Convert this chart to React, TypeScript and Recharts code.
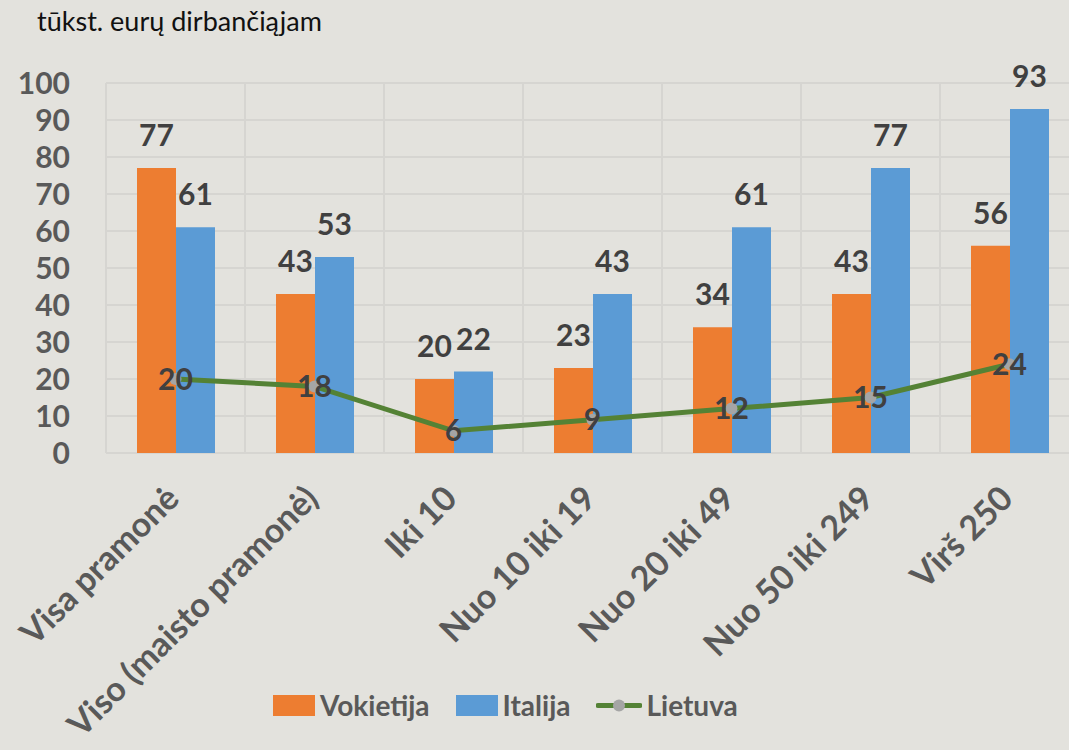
import React from "react";
import {
  ComposedChart,
  Bar,
  Line,
  XAxis,
  YAxis,
  CartesianGrid,
  LabelList,
} from "recharts";

const categories = [
  "Visa pramonė",
  "Viso (maisto pramonė)",
  "Iki 10",
  "Nuo 10 iki 19",
  "Nuo 20 iki 49",
  "Nuo 50 iki 249",
  "Virš 250",
];
const vokietija = [77, 43, 20, 23, 34, 43, 56];
const italija = [61, 53, 22, 43, 61, 77, 93];
const lietuva = [20, 18, 6, 9, 12, 15, 24];
const yTicks = [0, 10, 20, 30, 40, 50, 60, 70, 80, 90, 100];

const data = categories.map((name, i) => ({
  name,
  vokietija: vokietija[i],
  italija: italija[i],
  lietuva: lietuva[i],
}));

const FONT = "Lato, 'Open Sans', sans-serif";
const ORANGE = "#ED7D31";
const BLUE = "#5B9BD5";
const GREEN = "#548235";
const MARKER = "#A5A5A5";
const AXIS_TEXT = "#595959";
const LABEL_TEXT = "#404040";
const BG = "#E3E2DD";
const GRID = "#D6D5D1";

const XTick = (props: any) => {
  const { x, y, payload } = props;
  const ax = x - 4;
  const ay = y + 30;
  return (
    <text
      x={ax}
      y={ay}
      transform={`rotate(-45, ${ax}, ${ay})`}
      textAnchor="end"
      dominantBaseline="central"
      fontFamily={FONT}
      fontWeight={700}
      fontSize={34}
      fill={AXIS_TEXT}
    >
      {payload.value}
    </text>
  );
};

const LegendItem = ({ kind, color, label }: { kind: "bar" | "line"; color: string; label: string }) => (
  <div style={{ display: "flex", alignItems: "center", marginRight: 26 }}>
    {kind === "bar" ? (
      <div style={{ width: 42, height: 21, background: color, marginRight: 5 }} />
    ) : (
      <svg width={46} height={21} style={{ marginRight: 4 }}>
        <line x1={2} y1={10.5} x2={44} y2={10.5} stroke={color} strokeWidth={5} strokeLinecap="round" />
        <circle cx={23} cy={10.5} r={6} fill={MARKER} />
      </svg>
    )}
    <span style={{ fontFamily: FONT, fontWeight: 700, fontSize: 28, color: AXIS_TEXT }}>{label}</span>
  </div>
);

export default function App() {
  const n = categories.length;
  return (
    <div
      style={{
        position: "relative",
        width: 1069,
        height: 750,
        overflow: "hidden",
        background: BG,
      }}
    >
      <style>{`html, body { margin: 0; padding: 0; background: ${BG}; overflow: hidden; }`}</style>
      <div
        style={{
          position: "absolute",
          left: 37,
          top: 4,
          fontFamily: FONT,
          fontSize: 27,
          color: "#111",
        }}
      >
        tūkst. eurų dirbančiąjam
      </div>
      <ComposedChart
        width={1079}
        height={750}
        data={data}
        margin={{ top: 83, right: 0, bottom: 0, left: 0 }}
        barGap={0}
        barSize={39}
      >
        <CartesianGrid
          stroke={GRID}
          strokeWidth={2}
          verticalCoordinatesGenerator={({ offset }: any) =>
            Array.from({ length: n + 1 }, (_, i) => offset.left + (offset.width / n) * i)
          }
        />
        <XAxis
          dataKey="name"
          interval={0}
          axisLine={false}
          tickLine={false}
          height={297}
          tick={<XTick />}
        />
        <YAxis
          domain={[0, 100]}
          ticks={yTicks}
          interval={0}
          width={106}
          axisLine={false}
          tickLine={false}
          tickSize={0}
          tickMargin={36}
          tick={{ fontFamily: FONT, fontWeight: 700, fontSize: 30, fill: AXIS_TEXT }}
        />
        <Bar dataKey="vokietija" fill={ORANGE} isAnimationActive={false}>
          <LabelList
            dataKey="vokietija"
            position="top"
            offset={22}
            style={{ fontFamily: FONT, fontWeight: 700, fontSize: 30, fill: LABEL_TEXT }}
          />
        </Bar>
        <Bar dataKey="italija" fill={BLUE} isAnimationActive={false}>
          <LabelList
            dataKey="italija"
            position="top"
            offset={22}
            style={{ fontFamily: FONT, fontWeight: 700, fontSize: 30, fill: LABEL_TEXT }}
          />
        </Bar>
        <Line
          dataKey="lietuva"
          stroke={GREEN}
          strokeWidth={5}
          dot={{ r: 6, fill: MARKER, stroke: "none" }}
          activeDot={false}
          isAnimationActive={false}
        >
          <LabelList
            dataKey="lietuva"
            position="center"
            style={{ fontFamily: FONT, fontWeight: 700, fontSize: 30, fill: LABEL_TEXT }}
          />
        </Line>
      </ComposedChart>
      <div
        style={{
          position: "absolute",
          left: 273,
          top: 688,
          display: "flex",
          alignItems: "center",
        }}
      >
        <LegendItem kind="bar" color={ORANGE} label="Vokietija" />
        <LegendItem kind="bar" color={BLUE} label="Italija" />
        <LegendItem kind="line" color={GREEN} label="Lietuva" />
      </div>
    </div>
  );
}
